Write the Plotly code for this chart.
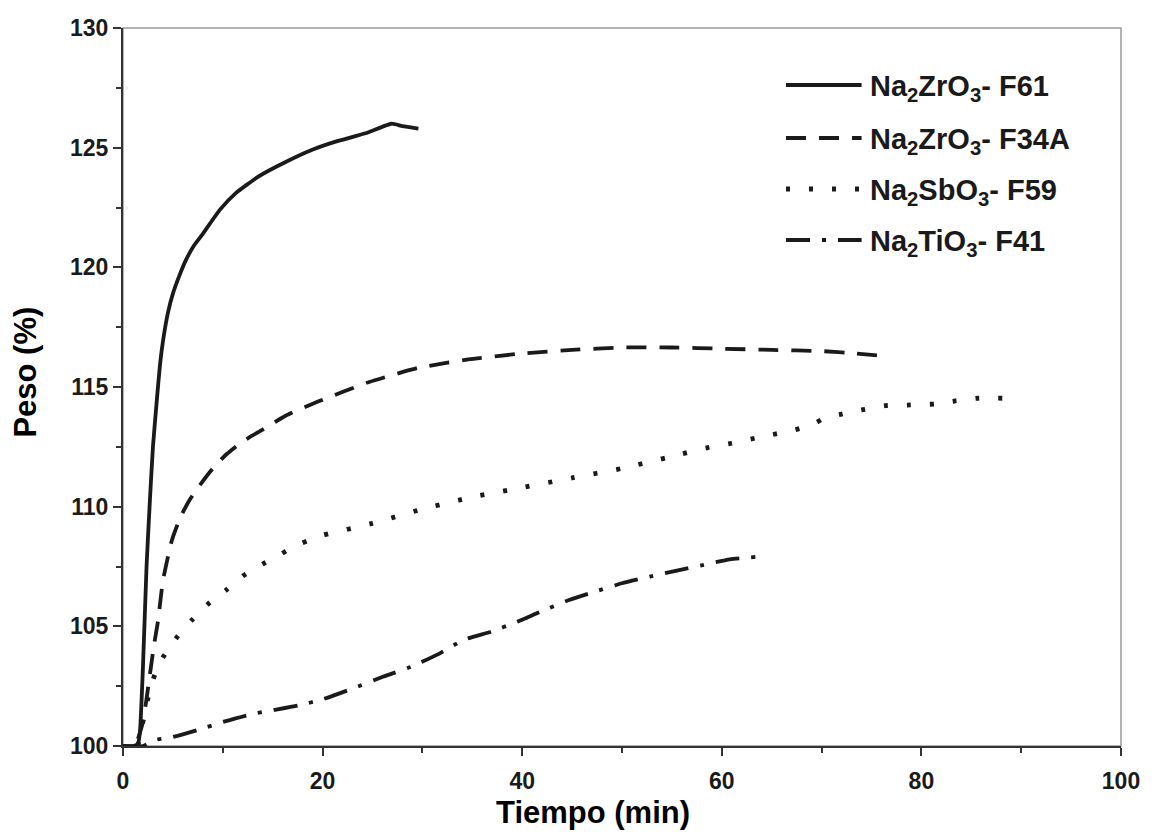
import plotly.graph_objects as go

# ---- data ----
f61_t = [0, 1.0, 1.5, 1.7, 2.0, 2.36, 2.7, 3.0, 3.4, 3.7, 4.0, 4.5, 5.0, 5.6, 6.3, 7.1, 8.0, 9.7, 11.3, 13.6, 16.3, 18.9, 21.3, 24.3, 26.9, 28.0, 29.6]
f61_p = [100, 100, 100.1, 100.6, 103.3, 107.5, 110.3, 112.5, 114.5, 115.9, 116.9, 118.1, 118.9, 119.6, 120.3, 120.9, 121.4, 122.4, 123.1, 123.8, 124.4, 124.9, 125.25, 125.6, 126.0, 125.9, 125.8]

f34_t = [1.5, 2.0, 2.7, 3.1, 3.5, 4.0, 4.9, 5.8, 6.7, 7.7, 9.0, 10.4, 11.9, 14.3, 16.3, 19.6, 24.6, 29.6, 34.6, 40, 45, 50, 55, 60, 65, 70, 73.4, 76]
f34_p = [100.3, 101.0, 103.0, 104.2, 105.2, 106.9, 108.6, 109.6, 110.3, 110.9, 111.6, 112.2, 112.7, 113.3, 113.8, 114.4, 115.2, 115.8, 116.15, 116.4, 116.55, 116.65, 116.65, 116.6, 116.55, 116.5, 116.4, 116.3]

f59_t = [1.5, 2.5, 3.2, 4.0, 5.5, 7.0, 8.7, 10.3, 12.0, 14.0, 15.8, 16.9, 20, 25, 30, 35, 40, 45, 50, 55, 58.6, 61.0, 63.3, 64.6, 66.8, 69.0, 70.4, 71.9, 74.0, 76.4, 78.9, 81.3, 83.4, 85.7, 88.3]
f59_p = [100, 102.0, 103.0, 103.7, 104.6, 105.3, 106.0, 106.5, 107.1, 107.6, 108.0, 108.3, 108.8, 109.3, 109.9, 110.4, 110.8, 111.2, 111.6, 112.1, 112.47, 112.65, 112.86, 112.97, 113.16, 113.41, 113.73, 113.86, 114.04, 114.22, 114.25, 114.29, 114.42, 114.53, 114.53]

f41_t = [0, 2, 3.2, 4.85, 7.5, 10.3, 13.0, 17.6, 20, 23, 26.1, 28.8, 31.6, 34.1, 36.9, 39.5, 42.0, 44.7, 47.3, 50.0, 52.8, 55.5, 58.1, 60.8, 63.4]
f41_p = [100, 100, 100.25, 100.36, 100.67, 101.04, 101.34, 101.7, 101.95, 102.4, 102.9, 103.3, 103.84, 104.43, 104.78, 105.19, 105.64, 106.1, 106.45, 106.8, 107.08, 107.33, 107.56, 107.8, 107.9]

series_names = ["Na<sub>2</sub>ZrO<sub>3</sub>- F61", "Na<sub>2</sub>ZrO<sub>3</sub>- F34A",
                "Na<sub>2</sub>SbO<sub>3</sub>- F59", "Na<sub>2</sub>TiO<sub>3</sub>- F41"]
series_t = [f61_t, f34_t, f59_t, f41_t]
series_p = [f61_p, f34_p, f59_p, f41_p]
dashes = ["solid", "20px,13px", "4px,19px", "24px,12px,4px,12px"]
widths = [3.8, 3.8, 4.8, 3.8]

x_ticks = [0, 20, 40, 60, 80, 100]
y_ticks = [100, 105, 110, 115, 120, 125, 130]

FONT = "Liberation Sans, Arial, sans-serif"
INK = "#1a1a1a"

fig = go.Figure()
for name, t, p, d, w in zip(series_names, series_t, series_p, dashes, widths):
    fig.add_trace(go.Scatter(x=t, y=p, mode="lines", name=name,
                             line=dict(color=INK, width=w, dash=d, shape="spline", smoothing=0.5),
                             showlegend=False))

W, H = 1152, 837
ml, mr, mt, mb = 123, 25, 28, 91
pw, ph = W - ml - mr, H - mt - mb

def px2paper(xp, yp):
    return (xp - ml) / pw, (H - mb - yp) / ph

shapes = [dict(type="rect", xref="paper", yref="paper", x0=0, y0=0, x1=1, y1=1,
               line=dict(color="#9a9a9a", width=1.5), layer="below")]
annotations = []
legend_rows = [85, 138, 189, 240]
for name, d, w, yrow in zip(series_names, dashes, widths, legend_rows):
    x0, y0 = px2paper(790, yrow)
    x1, _ = px2paper(866, yrow)
    shapes.append(dict(type="line", xref="paper", yref="paper", x0=x0, x1=x1, y0=y0, y1=y0,
                       line=dict(color=INK, width=w, dash=d)))
    xt, yt = px2paper(872, yrow + 3)
    annotations.append(dict(xref="paper", yref="paper", x=xt, y=yt, xanchor="left", yanchor="middle",
                            text="<b>" + name + "</b>", showarrow=False,
                            font=dict(family=FONT, size=29, color=INK)))

ax, ay = px2paper(596, 812)
annotations.append(dict(xref="paper", yref="paper", x=ax, y=ay, xanchor="center", yanchor="middle",
                        text="<b>Tiempo (min)</b>", showarrow=False,
                        font=dict(family=FONT, size=31, color="#000")))
bx, by = px2paper(24, 372)
annotations.append(dict(xref="paper", yref="paper", x=bx, y=by, xanchor="center", yanchor="middle",
                        text="<b>Peso (%)</b>", showarrow=False, textangle=-90,
                        font=dict(family=FONT, size=31, color="#000")))

axis_common = dict(showline=True, linecolor="#333", linewidth=2, ticks="outside", ticklen=8,
                   tickwidth=2, tickcolor="#333", showgrid=False, zeroline=False,
                   tickfont=dict(family=FONT, size=23, color=INK, weight="bold"))

fig.update_layout(
    width=W, height=H,
    margin=dict(l=ml, r=mr, t=mt, b=mb),
    paper_bgcolor="white", plot_bgcolor="white",
    xaxis=dict(range=[0, 100], tickvals=x_ticks, ticktext=[str(v) for v in x_ticks],
               ticklabelstandoff=5,
               minor=dict(dtick=10, tick0=0, ticks="outside", ticklen=5, tickwidth=2, tickcolor="#333"),
               **axis_common),
    yaxis=dict(range=[100, 130], tickvals=y_ticks, ticktext=[str(v) for v in y_ticks],
               minor=dict(dtick=2.5, tick0=100, ticks="outside", ticklen=5, tickwidth=2, tickcolor="#333"),
               **axis_common),
    shapes=shapes,
    annotations=annotations,
    showlegend=False,
)

fig.write_html("out.html")
